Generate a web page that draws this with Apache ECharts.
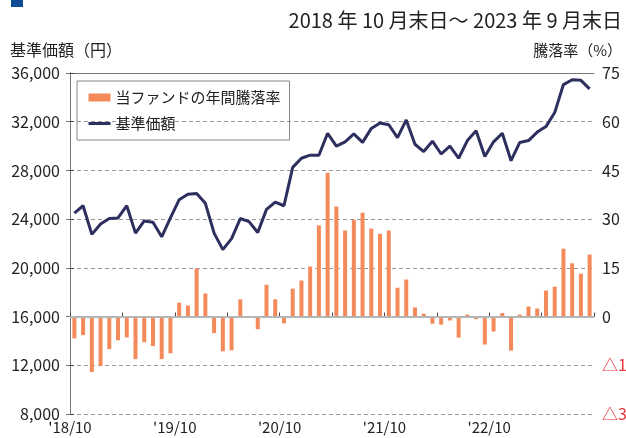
<!DOCTYPE html>
<html><head><meta charset="utf-8">
<script src="https://cdn.jsdelivr.net/npm/echarts@6/dist/echarts.min.js"></script>
<style>html,body{margin:0;padding:0;background:#fff}#c{width:626px;height:438px}</style>
</head><body><div id="c"></div>
<script>
var months = [];
(function(){var y=2018,m=10;for(var i=0;i<60;i++){months.push(y+'/'+m);m++;if(m>12){m=1;y++;}}})();
var tickLabels = ["'18/10","'19/10","'20/10","'21/10","'22/10"];
var navValues = [24500,25100,22750,23600,24050,24100,25100,22850,23850,23750,22550,24100,
  25600,26050,26100,25300,22850,21500,22400,24050,23800,22900,24800,25400,25100,28250,29000,29250,29250,31050,
  30000,30350,31000,30300,31450,31900,31750,30700,32150,30150,29550,30400,29350,30000,29000,
  30450,31250,29150,30350,31050,28800,30300,30450,31150,31600,32750,35050,35450,35400,34700];
var returnValues = [-6.7,-5.7,-17.1,-15.2,-10.0,-7.3,-6.4,-13.1,-7.9,-9.1,-13.1,-11.3,
  4.3,3.4,14.8,7.1,-5.1,-10.7,-10.4,5.3,-0.1,-3.9,9.8,5.3,-2.1,8.6,11.1,15.4,28.1,44.3,
  33.9,26.5,29.8,32.0,27.1,25.5,26.5,8.9,11.4,2.8,0.9,-2.2,-2.5,-1.2,-6.5,
  0.6,-0.8,-8.6,-4.6,1.1,-10.5,0.6,3.1,2.5,8.0,9.2,20.9,16.4,13.2,19.1];

var F = '"Noto Sans CJK JP","Noto Sans",sans-serif';
var NAVY = '#2d2f5e';
var barData = returnValues.map(function(v,i){return [i+0.5, v];});
var lineData = navValues.map(function(v,i){return [i+0.5, v];});

var chart = echarts.init(document.getElementById('c'), null, {renderer:'canvas'});
chart.setOption({
  animation:false,
  textStyle:{fontFamily:F},
  grid:{left:70,right:32,top:73,bottom:24,containLabel:false,outerBoundsMode:'none'},
  graphic:[
    {type:'rect',left:11,top:0,shape:{width:12,height:7},style:{fill:'#0f4c97'}},
    {type:'text',right:4,top:10,style:{text:'2018 年 10 月末日～ 2023 年 9 月末日',font:'20px '+F,fill:'#222'}},
    {type:'text',left:10,top:42,style:{text:'基準価額（円）',font:'16px '+F,fill:'#222'}},
    {type:'text',right:4,top:43,style:{text:'騰落率（%）',font:'15px '+F,fill:'#222'}}
  ],
  legend:{
    left:77,top:81,orient:'vertical',
    borderColor:'#888',borderWidth:1,padding:[9,9,9,10],
    itemWidth:22,itemHeight:8,itemGap:11,
    lineStyle:{width:3,color:NAVY},
    textStyle:{fontSize:15,color:'#222',fontFamily:F},
    data:[{name:'当ファンドの年間騰落率',icon:'rect'},{name:'基準価額',lineStyle:{width:3,color:NAVY}}]
  },
  xAxis:[{
    type:'value',min:0,max:60,interval:6,
    axisLine:{show:true,lineStyle:{color:'#444',width:1}},
    axisTick:{show:true,inside:true,length:4,lineStyle:{color:'#444'}},
    splitLine:{show:false},
    axisLabel:{fontSize:15,color:'#222',margin:6,fontFamily:F,
      formatter:function(v){var k=Math.round(v); if(k%12===0 && k/12<tickLabels.length) return tickLabels[k/12]; return '';}}
  },{
    type:'value',min:0,max:60,position:'top',
    axisLine:{show:true,lineStyle:{color:'#777',width:1}},
    axisTick:{show:false},axisLabel:{show:false},splitLine:{show:false}
  }],
  yAxis:[{
    type:'value',min:8000,max:36000,interval:4000,
    axisLine:{show:true,lineStyle:{color:'#444',width:1}},
    axisTick:{show:true,inside:true,length:4,lineStyle:{color:'#444'}},
    splitLine:{show:true,lineStyle:{color:'#999',type:[4,3],width:1}},
    axisLabel:{fontSize:16,color:'#222',margin:10,fontFamily:F,
      formatter:function(v){return v.toLocaleString('en-US');}}
  },{
    type:'value',min:-30,max:75,interval:15,position:'right',
    axisLine:{show:true,lineStyle:{color:'#777',width:1}},
    axisTick:{show:true,inside:true,length:4,lineStyle:{color:'#777'}},
    splitLine:{show:false},
    axisLabel:{fontSize:16,color:'#222',margin:8,fontFamily:F,
      formatter:function(v){return v<0 ? '{n|△'+(-v)+'}' : String(v);},
      rich:{n:{color:'#e8343c',fontSize:16,fontFamily:F}}}
  }],
  series:[{
    name:'当ファンドの年間騰落率',type:'bar',yAxisIndex:1,data:barData,barWidth:4,
    itemStyle:{color:'#f48a5a'},
    markLine:{silent:true,symbol:'none',label:{show:false},
      lineStyle:{color:'#b5b5b5',type:'solid',width:2},data:[{yAxis:0}]}
  },{
    name:'基準価額',type:'line',yAxisIndex:0,data:lineData,
    symbol:'none',showSymbol:false,
    lineStyle:{color:NAVY,width:3},itemStyle:{color:'rgba(0,0,0,0)'}
  }]
});
</script></body></html>
